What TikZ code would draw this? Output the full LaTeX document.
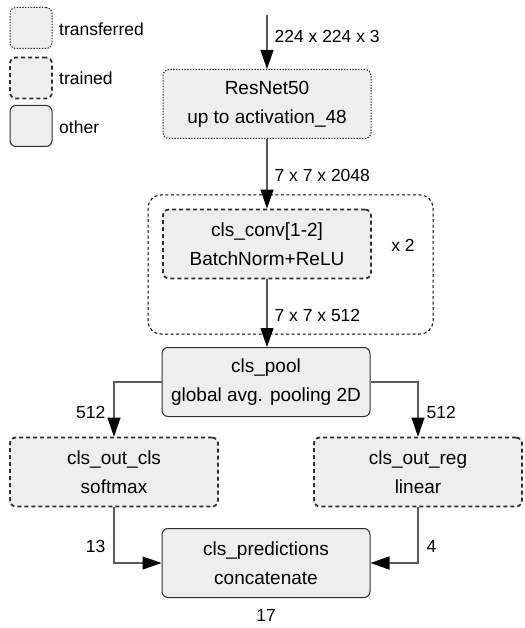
\documentclass[tikz,border=0pt]{standalone}
\usepackage{fontspec}
\setmainfont{Liberation Sans}
\usetikzlibrary{arrows.meta}
\definecolor{boxfill}{HTML}{EEEEEE}
\definecolor{boxline}{HTML}{2E2E2E}
\definecolor{wire}{HTML}{5A5A5A}
\tikzset{
  base/.style={fill=boxfill, draw=boxline, rounded corners=6pt, align=center,
    font=\fontsize{19}{29}\selectfont, inner sep=0pt},
  transferred/.style={base, line width=1pt, dash pattern=on 1.4pt off 1.4pt},
  trained/.style={base, line width=1.8pt, dash pattern=on 4pt off 3pt},
  other/.style={base, line width=1pt},
  layer/.style={minimum width=208pt, minimum height=69pt},
  legendbox/.style={minimum width=42pt, minimum height=41pt},
  lbl/.style={font=\fontsize{17.5}{20}\selectfont, inner sep=0pt},
  conn/.style={draw=wire, line width=1.2pt,
    -{Triangle[length=19pt,width=13pt,fill=black,color=black]}},
  group/.style={draw=black, line width=1pt, dash pattern=on 3pt off 2.5pt,
    rounded corners=13pt}
}
\begin{document}
\begin{tikzpicture}[x=1pt,y=-1pt]
\useasboundingbox (0,0) rectangle (524,628);

% legend
\node[transferred, legendbox] (lgT) at (31,28) {};
\node[trained, legendbox] (lgR) at (31,78) {};
\node[other, legendbox] (lgO) at (31,126) {};
\node[lbl, anchor=west] at (59,29) {transferred};
\node[lbl, anchor=west] at (59,78) {trained};
\node[lbl, anchor=west] at (59,127) {other};

% repeated block frame
\draw[group] (148,195) rectangle (433,334);
\node[lbl] (rep) at (403,245) {x 2};

% layers
\node[transferred, layer] (resnet) at (267,104) {ResNet50\\up to activation\_48};
\node[trained, layer] (conv) at (267,244) {cls\_conv[1-2]\\BatchNorm+ReLU};
\node[other, layer] (pool) at (266,382) {cls\_pool\\global avg. pooling 2D};
\node[trained, layer] (outcls) at (114,472) {cls\_out\_cls\\softmax};
\node[trained, layer] (outreg) at (418,472) {cls\_out\_reg\\linear};
\node[other, layer] (pred) at (266,563) {cls\_predictions\\concatenate};

% connectors
\coordinate (input) at (267,15);
\draw[conn] (input) -- (resnet.north)
  node[lbl, right=7pt, pos=0.4] {224 x 224 x 3};
\draw[conn] (resnet.south) -- (conv.north)
  node[lbl, right=7pt, pos=0.52] {7 x 7 x 2048};
\draw[conn] (conv.south) -- (pool.north -| conv.south)
  node[lbl, right=7pt, pos=0.53] {7 x 7 x 512};
\draw[conn] (pool.west) -| (outcls.north)
  node[lbl, pos=0.78, left=8pt] {512};
\draw[conn] (pool.east) -| (outreg.north)
  node[lbl, pos=0.78, right=8pt] {512};
\draw[conn] (outcls.south) |- (pred.west)
  node[lbl, pos=0.35, left=8pt] {13};
\draw[conn] (outreg.south) |- (pred.east)
  node[lbl, pos=0.35, right=8pt] {4};
\node[lbl] (total) at (266,615) {17};
\end{tikzpicture}
\end{document}
